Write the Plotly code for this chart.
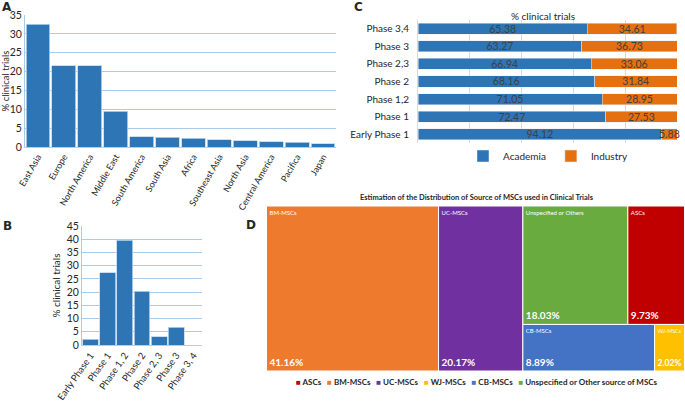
import plotly.graph_objects as go

# ---------------- data ----------------
regions = ["East Asia", "Europe", "North America", "Middle East", "South America",
           "South Asia", "Africa", "Southeast Asia", "North Asia", "Central America",
           "Pacifica", "Japan"]
region_pct = [32.5, 21.5, 21.5, 9.5, 2.7, 2.6, 2.3, 1.9, 1.6, 1.4, 1.2, 0.8]

phases_b = ["Early Phase 1", "Phase 1", "Phase 1, 2", "Phase 2", "Phase 2, 3", "Phase 3", "Phase 3, 4"]
phase_pct = [2.2, 27.3, 39.7, 20.4, 3.2, 6.7, 0.0]

phases_c = ["Early Phase 1", "Phase 1", "Phase 1,2", "Phase 2", "Phase 2,3", "Phase 3", "Phase 3,4"]
academia = [94.12, 72.47, 71.05, 68.16, 66.94, 63.27, 65.38]
industry = [5.88, 27.53, 28.95, 31.84, 33.06, 36.73, 34.61]

tm_labels = ["BM-MSCs", "UC-MSCs", "Unspecified or Others", "ASCs", "CB-MSCs", "WJ-MSCs"]
tm_values = [41.16, 20.17, 18.03, 9.73, 8.89, 2.02]
tm_colors = ["#EE7A2E", "#7030A0", "#6AAB3F", "#C00000", "#4472C4", "#FFC000"]

legend_d_names = ["ASCs", "BM-MSCs", "UC-MSCs", "WJ-MSCs", "CB-MSCs",
                  "Unspecified or Other source of MSCs"]
legend_d_colors = ["#C00000", "#EE7A2E", "#7030A0", "#FFC000", "#4472C4", "#6AAB3F"]

# ---------------- style ----------------
W, H = 685, 404
FONT = "Lato, Open Sans, sans-serif"
TXT = "#262626"
BLUE = "#2E75B6"
ORANGE = "#E5700F"
GRID_BLUE = "#A9CBEA"


def px_x(x):
    return x / W


def px_y(y):
    return 1 - y / H


fig = go.Figure()

# Panel A
fig.add_trace(go.Bar(x=regions, y=region_pct, marker=dict(color=BLUE, line=dict(color="#BDD7EE", width=0.8)),
                     xaxis="x", yaxis="y", showlegend=False))
# Panel B
fig.add_trace(go.Bar(x=phases_b, y=phase_pct, marker=dict(color=BLUE, line=dict(color="#BDD7EE", width=0.8)),
                     xaxis="x2", yaxis="y2", showlegend=False))
# Panel C
fig.add_trace(go.Bar(y=phases_c, x=academia, orientation="h", name="Academia", width=0.63,
                     marker=dict(color=BLUE), text=[f"{v:.2f}" for v in academia],
                     textposition="inside", insidetextanchor="middle", constraintext="none",
                     textfont=dict(color="#404040", size=10.5, family=FONT), cliponaxis=False,
                     xaxis="x3", yaxis="y3"))
fig.add_trace(go.Bar(y=phases_c, x=industry, orientation="h", name="Industry", width=0.63,
                     marker=dict(color=ORANGE), text=[f"{v:.2f}" for v in industry],
                     textposition="inside", insidetextanchor="middle", constraintext="none",
                     textfont=dict(color="#404040", size=10.5, family=FONT), cliponaxis=False,
                     xaxis="x3", yaxis="y3"))

# Panel D treemap (two overlaid: labels top-left, values bottom-left)
tm_domain = dict(x=[px_x(266.5), px_x(684.5)], y=[px_y(371), px_y(206)])
tiling = dict(packing="squarify", squarifyratio=1.0103, pad=0)
fig.add_trace(go.Treemap(labels=tm_labels, parents=[""] * len(tm_labels), values=tm_values,
                         marker=dict(colors=tm_colors, line=dict(color="white", width=1),
                                     pad=dict(t=0, l=0, r=0, b=0)),
                         tiling=tiling, sort=True,
                         textposition="top left", texttemplate="%{label}",
                         textfont=dict(size=6, color="white", family=FONT),
                         pathbar=dict(visible=False), hoverinfo="skip", domain=tm_domain))
fig.add_trace(go.Treemap(labels=tm_labels, parents=[""] * len(tm_labels), values=tm_values,
                         marker=dict(colors=["rgba(0,0,0,0)"] * len(tm_labels), line=dict(width=0),
                                     pad=dict(t=0, l=0, r=0, b=0)),
                         tiling=tiling, sort=True,
                         textposition="bottom left", texttemplate="<b>%{value:.2f}%</b>",
                         textfont=dict(size=10, color="white", family=FONT),
                         pathbar=dict(visible=False), hoverinfo="skip", domain=tm_domain))

fig.update_layout(
    width=W, height=H, margin=dict(l=0, r=0, t=0, b=0, autoexpand=False),
    paper_bgcolor="white", plot_bgcolor="white",
    font=dict(family=FONT, color=TXT),
    bargap=0.08, barmode="stack",
    xaxis=dict(domain=[px_x(25), px_x(336)], anchor="y", tickangle=-60, tickfont=dict(family=FONT, size=9, color=TXT),
               showline=True, linecolor="#C8C8C8", ticks="", showgrid=False, automargin=False),
    yaxis=dict(domain=[px_y(147), px_y(15)], anchor="x", range=[0, 35], dtick=5, tickfont=dict(family=FONT, size=10.5, color=TXT),
               gridcolor=GRID_BLUE, gridwidth=1, showline=True, linecolor=GRID_BLUE, zeroline=False, automargin=False,
               title=dict(text="% clinical trials", font=dict(family=FONT, size=9.5, color=TXT), standoff=4)),
    xaxis2=dict(domain=[px_x(82), px_x(202)], anchor="y2", tickangle=-55, tickfont=dict(family=FONT, size=9.5, color=TXT),
                showline=True, linecolor="#C8C8C8", ticks="", showgrid=False, automargin=False),
    yaxis2=dict(domain=[px_y(345), px_y(226)], anchor="x2", range=[0, 45], dtick=5, tickfont=dict(family=FONT, size=10.5, color=TXT),
                gridcolor=GRID_BLUE, gridwidth=1, showline=True, linecolor=GRID_BLUE, zeroline=False, automargin=False,
                title=dict(text="% clinical trials", font=dict(family=FONT, size=10, color=TXT), standoff=4)),
    xaxis3=dict(domain=[px_x(418), px_x(677)], anchor="y3", range=[0, 100], dtick=20, showticklabels=False,
                showgrid=True, gridcolor="#D9D9D9", zeroline=False, showline=False, automargin=False),
    yaxis3=dict(domain=[px_y(143), px_y(20)], anchor="x3", tickfont=dict(family=FONT, size=10, color=TXT),
                showline=True, linecolor="#D9D9D9", ticks="", ticklabelstandoff=6, automargin=False),
    legend=dict(orientation="h", x=px_x(548), xanchor="center", y=px_y(156), yanchor="middle",
                font=dict(family=FONT, size=10, color=TXT), itemwidth=30, traceorder="normal",
                bgcolor="rgba(0,0,0,0)"),
)

# Panel titles and letters
annotations = [
    dict(text="<b>A</b>", x=px_x(0), y=px_y(7), xanchor="left", yanchor="middle", font=dict(size=12, family="DejaVu Sans")),
    dict(text="<b>B</b>", x=px_x(1), y=px_y(226), xanchor="left", yanchor="middle", font=dict(size=12, family="DejaVu Sans")),
    dict(text="<b>C</b>", x=px_x(352), y=px_y(7), xanchor="left", yanchor="middle", font=dict(size=12, family="DejaVu Sans")),
    dict(text="<b>D</b>", x=px_x(244), y=px_y(225), xanchor="left", yanchor="middle", font=dict(size=12, family="DejaVu Sans")),
    dict(text="% clinical trials", x=px_x(543), y=px_y(16), xanchor="center", yanchor="middle",
         font=dict(size=10, family=FONT, color=TXT)),
    dict(text="<b>Estimation of the Distribution of Source of MSCs used in Clinical Trials</b>",
         x=px_x(477), y=px_y(197), xanchor="center", yanchor="middle", font=dict(size=7.5, family=FONT, color=TXT)),
]
legend_d = "   ".join(f"<span style='color:{c}'>■</span> {n}" for n, c in zip(legend_d_names, legend_d_colors))
annotations.append(dict(text=f"<b>{legend_d}</b>", x=px_x(477), y=px_y(382), xanchor="center", yanchor="middle",
                        font=dict(size=8, family=FONT, color=TXT)))
for a in annotations:
    a.update(xref="paper", yref="paper", showarrow=False)
fig.update_layout(annotations=annotations)

fig.write_html("out.html", config={"displayModeBar": False},
               post_script="document.body.style.margin='0';document.body.style.overflow='hidden';")
